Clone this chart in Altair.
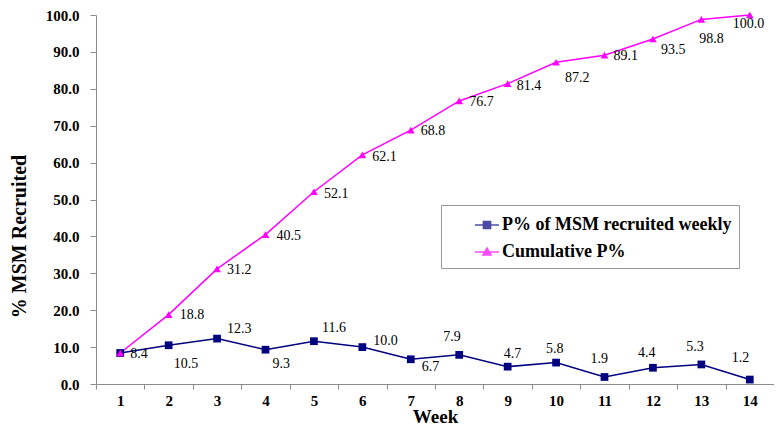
import altair as alt
import pandas as pd

# ---- data ----
weeks = list(range(1, 15))
weekly = [8.4, 10.5, 12.3, 9.3, 11.6, 10.0, 6.7, 7.9, 4.7, 5.8, 1.9, 4.4, 5.3, 1.2]
cumulative = [8.4, 18.8, 31.2, 40.5, 52.1, 62.1, 68.8, 76.7, 81.4, 87.2, 89.1, 93.5, 98.8, 100.0]
series_names = ["P% of MSM recruited weekly", "Cumulative P%"]

# ---- label placement (pixel nudges, layout only) ----
weekly_dx = [10, 5, 10, 7, 8, 11, 11, -16, -4, -10, -14, -15, -15, -18]
weekly_dy = [1, 19, -10, 14, -13, -6, 8, -18, -13, -14, -18, -15, -17, -22]
cum_dx = [10, 11, 10, 11, 10, 10, 10, 10, 9, 9, 9, 8, -2, -17]
cum_dy = [1, 0, 1, 1, 2, 2, 1, 1, 2, 16, 1, 11, 20, 9]

rows = []
for i, w in enumerate(weeks):
    rows.append({"Week": w, "value": weekly[i], "series": series_names[0],
                 "dx": weekly_dx[i], "dy": weekly_dy[i]})
for i, w in enumerate(weeks):
    rows.append({"Week": w, "value": cumulative[i], "series": series_names[1],
                 "dx": cum_dx[i], "dy": cum_dy[i]})
df = pd.DataFrame(rows)

NAVY = "#000080"
MAGENTA = "#FF00FF"
SERIF = "Liberation Serif"

x_enc = alt.X("Week:O", scale=alt.Scale(type="band", paddingInner=0, paddingOuter=0),
              axis=alt.Axis(title="Week", labelAngle=0, tickBand="extent",
                            labelFont=SERIF, labelFontWeight="bold", labelFontSize=15,
                            labelColor="black", labelPadding=4, tickSize=5,
                            titleFont=SERIF, titleFontWeight="bold", titleFontSize=19,
                            titleColor="black", titleBaseline="middle", titleY=32))
y_enc = alt.Y("value:Q", scale=alt.Scale(domain=[0, 100], nice=False),
              axis=alt.Axis(title="% MSM Recruited", values=list(range(0, 101, 10)),
                            tickCount=11,
                            format=".1f", labelFont=SERIF, labelFontWeight="bold",
                            labelFontSize=15, labelColor="black", labelPadding=11,
                            labelOverlap=False, labelBound=False,
                            tickSize=6, grid=False,
                            titleFont=SERIF, titleFontWeight="bold", titleFontSize=20,
                            titleColor="black", titleBaseline="middle", titleAngle=-90,
                            titleX=-77, titleY=221))

color_scale = alt.Scale(domain=series_names, range=[NAVY, MAGENTA])

base = alt.Chart(df)

lines = base.mark_line(strokeWidth=1.5).encode(
    x=x_enc, y=y_enc,
    color=alt.Color("series:N", scale=color_scale, legend=None),
    detail="series:N",
)

points = base.mark_point(filled=True, opacity=1, size=60).encode(
    x=x_enc, y=y_enc,
    color=alt.Color("series:N", scale=color_scale, legend=None),
    shape=alt.Shape("series:N", scale=alt.Scale(domain=series_names,
                                                range=["square", "triangle-up"]),
                    legend=None),
)

labels = base.mark_text(align="left", baseline="middle", font=SERIF,
                        fontSize=14, color="black",
                        dx=alt.expr("datum.dx"), dy=alt.expr("datum.dy")).encode(
    x=x_enc, y=y_enc,
    text=alt.Text("value:Q", format=".1f"),
).transform_filter(
    f"datum.series == '{series_names[1]}' || datum.Week != 1"
)

SQ_PATH = "M-1,0H1M-0.3,-0.3H0.3V0.3H-0.3Z"
TRI_PATH = "M-1,0H1M0,-0.34L0.34,0.24H-0.34Z"

leg = dict(orient="none", legendX=345, legendY=190, direction="vertical", title=None,
           labelFont=SERIF, labelFontWeight="bold", labelFontSize=18,
           labelColor="black", labelLimit=500,
           symbolSize=576, symbolStrokeWidth=1.5,
           rowPadding=5, padding=7, symbolOffset=26, labelOffset=2,
           strokeColor="#999999", fillColor="white")

legend_scale = alt.Scale(domain=series_names, range=[NAVY, MAGENTA])
legend_layer = base.mark_point(filled=True).encode(
    x=x_enc, y=y_enc,
    color=alt.Color("series:N", scale=legend_scale, title=None, legend=alt.Legend(**leg)),
    stroke=alt.Stroke("series:N", scale=legend_scale, title=None, legend=alt.Legend(**leg)),
    shape=alt.Shape("series:N", scale=alt.Scale(domain=series_names, range=[SQ_PATH, TRI_PATH]),
                    title=None, legend=alt.Legend(**leg)),
).transform_filter("false")

chart = alt.layer(lines, points, labels, legend_layer).resolve_scale(
    color="independent", shape="independent", stroke="independent"
).properties(
    width=678, height=369,
    autosize=alt.AutoSizeParams(type="none"),
    padding={"left": 88, "top": 7, "right": 0, "bottom": 42},
    background="white",
).configure_view(stroke=None).configure_axis(
    domainColor="#8c8c8c", tickColor="#8c8c8c", grid=False, labelOverlap=False
)

chart.save("out.html", embed_options={"renderer": "svg", "actions": False})
